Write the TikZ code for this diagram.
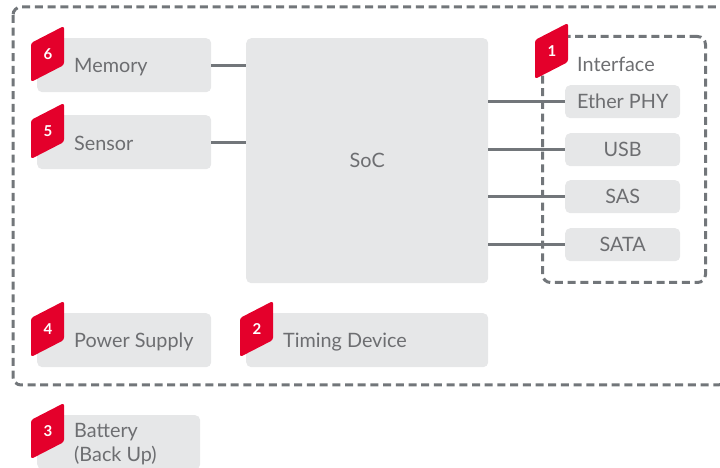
\documentclass[tikz,border=0pt]{standalone}
\usepackage{fontspec}
\setmainfont{Lato}
\usepackage{tikz}
\usetikzlibrary{positioning}

\definecolor{blockgrau}{HTML}{E6E7E8}
\definecolor{textgrau}{HTML}{6D6E71}
\definecolor{liniengrau}{HTML}{72767A}
\definecolor{rot}{HTML}{E4002B}

\tikzset{
  block/.style={fill=blockgrau, rounded corners=5pt, anchor=north west, inner sep=0pt},
  txt/.style={text=textgrau, font=\fontsize{19.8}{24}\selectfont, inner sep=0pt},
  linie/.style={draw=liniengrau, line width=3pt},
  rahmen/.style={draw=liniengrau, line width=3pt, dash pattern=on 8pt off 4.7pt, rounded corners=8pt},
  nr/.style={text=white, font=\fontsize{15}{17}\selectfont\bfseries, inner sep=0pt}
}

% rote Nummer an der Ecke eines Blocks
\newcommand{\nummer}[2]{
  \fill[rot, rounded corners=2.5pt] ([shift={(-6,-5)}]#1.north west) -- ++(33,17) -- ++(0,-39) -- ++(-33,-17) -- cycle;
  \node[nr] (#1nr) at ([shift={(11,-16)}]#1.north west) {#2};
}

\begin{document}
\begin{tikzpicture}[x=1pt, y=1pt]
  \useasboundingbox (0,0) rectangle (720,468);

  % Rahmen
  \draw[rahmen] (13,461) rectangle (726,83);

  % Bloecke links
  \node[block, minimum width=174pt, minimum height=54pt] (mem) at (37,430) {};
  \node[block, minimum width=174pt, minimum height=54pt] (sen) at (37,353) {};
  \node[block, minimum width=174pt, minimum height=54pt] (pwr) at (37,155) {};
  \node[block, minimum width=163pt, minimum height=54pt] (bat) at (37,53) {};

  % SoC und Timing
  \node[block, minimum width=242pt, minimum height=245pt] (soc) at (246,430) {};
  \node[block, minimum width=242pt, minimum height=54pt] (tim) at (246,155) {};

  % Interface
  \node[rahmen, anchor=north west, minimum width=163pt, minimum height=246pt, inner sep=0pt] (ifc) at (541,433) {};
  \node[block, minimum width=115pt, minimum height=33pt] (eth) at (565,383) {};
  \node[block, minimum width=115pt, minimum height=33pt] (usb) at (565,335) {};
  \node[block, minimum width=115pt, minimum height=33pt] (sas) at (565,288) {};
  \node[block, minimum width=115pt, minimum height=33pt] (sata) at (565,240) {};

  % Verbindungen
  \draw[linie] (mem.east) -- (mem.east -| soc.west);
  \draw[linie] (sen.east) -- (sen.east -| soc.west);
  \foreach \b in {eth, usb, sas, sata}
    \draw[linie] (\b.west -| soc.east) -- (\b.west);

  % Beschriftung
  \node[txt, anchor=west] (memtxt) at ([shift={(37,-2)}]mem.west) {Memory};
  \node[txt, anchor=west] (sentxt) at ([shift={(37,-1)}]sen.west) {Sensor};
  \node[txt, anchor=west] (pwrtxt) at ([shift={(37,-2)}]pwr.west) {Power Supply};
  \node[txt, anchor=west, align=left] (battxt) at ([shift={(37,-2)}]bat.west) {Battery\\(Back Up)};
  \node[txt] (soctxt) at (soc.center) {SoC};
  \node[txt, anchor=west] (timtxt) at ([shift={(37,-2)}]tim.west) {Timing Device};
  \node[txt, anchor=west] (ifctxt) at ([shift={(36,-29)}]ifc.north west) {Interface};
  \node[txt] (ethtxt) at (eth.center) {Ether PHY};
  \node[txt] (usbtxt) at (usb.center) {USB};
  \node[txt] (sastxt) at (sas.center) {SAS};
  \node[txt] (satatxt) at (sata.center) {SATA};

  % Nummern
  \nummer{ifc}{1}
  \nummer{tim}{2}
  \nummer{bat}{3}
  \nummer{pwr}{4}
  \nummer{sen}{5}
  \nummer{mem}{6}
\end{tikzpicture}
\end{document}
